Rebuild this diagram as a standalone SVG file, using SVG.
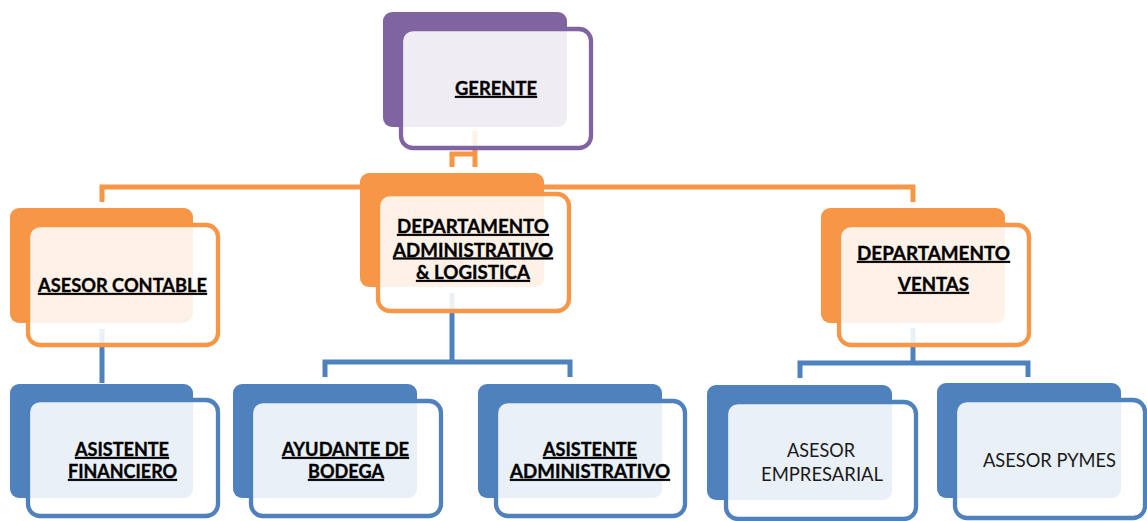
<svg xmlns="http://www.w3.org/2000/svg" width="1147" height="521" viewBox="0 0 1147 521">
  <style>
    .conn { fill: none; stroke-width: 5; stroke-linejoin: miter; stroke-linecap: butt; }
    .c-or { stroke: #F79646; }
    .c-bl { stroke: #4F81BD; }
    .back { stroke: none; }
    .front { fill: #FFFFFF; fill-opacity: 0.88; stroke-width: 4.3; }
    .purple .back { fill: #8064A2; }
    .purple .front { stroke: #8064A2; }
    .orange .back { fill: #F79646; }
    .orange .front { stroke: #F79646; }
    .blue .back { fill: #4F81BD; }
    .blue .front { stroke: #4F81BD; }
    .lbl { font-family: Lato, "Liberation Sans", sans-serif; font-size: 18.8px; fill: #000000; text-anchor: middle; }
    .b { font-weight: bold; text-decoration: underline; stroke: #000000; stroke-width: 0.35; }
    .r { fill: #1a1a1a; }
  </style>

  <!-- connectors -->
  <g id="connectors">
    <path class="conn c-or" d="M475,131 V167"/>
    <path class="conn c-or" d="M452,167 V154 H475"/>
    <path class="conn c-or" d="M102,202 V187 H913 V202"/>
    <path class="conn c-bl" d="M102,329 V383"/>
    <path class="conn c-bl" d="M452,293 V362"/>
    <path class="conn c-bl" d="M325,377 V362 H570 V377"/>
    <path class="conn c-bl" d="M913,328 V363"/>
    <path class="conn c-bl" d="M800,378 V363 H1028 V377"/>
  </g>

  <g id="gerente" class="purple">
    <rect class="back" x="383" y="12" width="184" height="115" rx="9"/>
    <rect class="front" x="401" y="29" width="190" height="119" rx="12"/>
    <text class="lbl b" x="496" y="95" textLength="82" lengthAdjust="spacingAndGlyphs">GERENTE</text>
  </g>

  <g id="asesor-contable" class="orange">
    <rect class="back" x="10" y="208" width="183" height="115" rx="9"/>
    <rect class="front" x="28" y="225" width="190" height="120" rx="12"/>
    <text class="lbl b" x="122.5" y="292" textLength="169" lengthAdjust="spacingAndGlyphs">ASESOR CONTABLE</text>
  </g>

  <g id="depto-administrativo" class="orange">
    <rect class="back" x="360" y="173" width="184" height="114" rx="9"/>
    <rect class="front" x="378" y="194" width="191" height="117" rx="12"/>
    <text class="lbl b" x="473" y="233" textLength="152" lengthAdjust="spacingAndGlyphs">DEPARTAMENTO</text>
    <text class="lbl b" x="473" y="256.5" textLength="160" lengthAdjust="spacingAndGlyphs">ADMINISTRATIVO</text>
    <text class="lbl b" x="473" y="279" textLength="114" lengthAdjust="spacingAndGlyphs">&amp; LOGISTICA</text>
  </g>

  <g id="depto-ventas" class="orange">
    <rect class="back" x="821" y="208" width="184" height="115" rx="9"/>
    <rect class="front" x="839" y="225" width="190" height="120" rx="12"/>
    <text class="lbl b" x="933.5" y="260" textLength="153" lengthAdjust="spacingAndGlyphs">DEPARTAMENTO</text>
    <text class="lbl b" x="933.5" y="291" textLength="71" lengthAdjust="spacingAndGlyphs">VENTAS</text>
  </g>

  <g id="asistente-financiero" class="blue">
    <rect class="back" x="10" y="384" width="183" height="114" rx="9"/>
    <rect class="front" x="28" y="400" width="190" height="116" rx="12"/>
    <text class="lbl b" x="122" y="456" textLength="94" lengthAdjust="spacingAndGlyphs">ASISTENTE</text>
    <text class="lbl b" x="122.5" y="478" textLength="109" lengthAdjust="spacingAndGlyphs">FINANCIERO</text>
  </g>

  <g id="ayudante-bodega" class="blue">
    <rect class="back" x="233" y="384" width="184" height="114" rx="9"/>
    <rect class="front" x="251" y="401" width="190" height="115" rx="12"/>
    <text class="lbl b" x="345.5" y="456" textLength="127" lengthAdjust="spacingAndGlyphs">AYUDANTE DE</text>
    <text class="lbl b" x="346" y="478" textLength="76" lengthAdjust="spacingAndGlyphs">BODEGA</text>
  </g>

  <g id="asistente-administrativo" class="blue">
    <rect class="back" x="478" y="384" width="184" height="114" rx="9"/>
    <rect class="front" x="496" y="401" width="189" height="115" rx="12"/>
    <text class="lbl b" x="590" y="456" textLength="94" lengthAdjust="spacingAndGlyphs">ASISTENTE</text>
    <text class="lbl b" x="590" y="478" textLength="160" lengthAdjust="spacingAndGlyphs">ADMINISTRATIVO</text>
  </g>

  <g id="asesor-empresarial" class="blue">
    <rect class="back" x="707" y="385" width="185" height="115" rx="9"/>
    <rect class="front" x="726" y="402" width="190" height="117" rx="12"/>
    <text class="lbl r" x="821" y="457" textLength="68" lengthAdjust="spacingAndGlyphs">ASESOR</text>
    <text class="lbl r" x="822" y="481" textLength="122" lengthAdjust="spacingAndGlyphs">EMPRESARIAL</text>
  </g>

  <g id="asesor-pymes" class="blue">
    <rect class="back" x="937" y="383" width="184" height="115" rx="9"/>
    <rect class="front" x="955" y="400" width="190" height="118" rx="12"/>
    <text class="lbl r" x="1049.5" y="467" textLength="133" lengthAdjust="spacingAndGlyphs">ASESOR PYMES</text>
  </g>
</svg>
